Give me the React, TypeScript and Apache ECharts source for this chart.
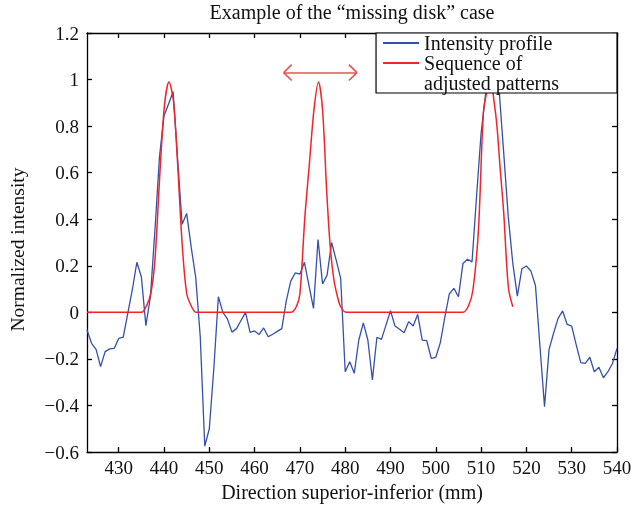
import React, { useEffect, useRef } from "react";
import * as echarts from "echarts";

const chartTitle = "Example of the \u201cmissing disk\u201d case";
const xAxisName = "Direction superior-inferior (mm)";
const yAxisName = "Normalized intensity";
const profileName = "Intensity profile";
const patternName = "Sequence of adjusted patterns";

const xRange = [423, 540];
const xTickValues = [430, 440, 450, 460, 470, 480, 490, 500, 510, 520, 530, 540];
const yRange = [-0.6, 1.2];
const yStep = 0.2;

const intensityProfile: [number, number][] = [
  [423, -0.076], [424, -0.133], [425, -0.159], [426, -0.233], [427, -0.169], [428, -0.157],
  [429, -0.155], [430, -0.112], [431, -0.107], [432, -0.004], [433, 0.096], [434, 0.215],
  [435, 0.153], [436, -0.057], [437, 0.067], [438, 0.354], [439, 0.668], [440, 0.843],
  [441, 0.895], [442, 0.948], [443, 0.66], [444, 0.378], [445, 0.425], [446, 0.28],
  [447, 0.15], [448, -0.105], [449, -0.575], [450, -0.5], [451, -0.24], [452, 0.067],
  [453, 0.0], [454, -0.028], [455, -0.085], [456, -0.07], [457, -0.035], [458, 0.0],
  [459, -0.086], [460, -0.08], [461, -0.095], [462, -0.067], [463, -0.105], [464, -0.094],
  [465, -0.082], [466, -0.07], [467, 0.05], [468, 0.135], [469, 0.17], [470, 0.164],
  [471, 0.215], [472, 0.116], [473, 0.017], [474, 0.313], [475, 0.122], [476, 0.16],
  [477, 0.3], [478, 0.225], [479, 0.146], [480, -0.255], [481, -0.212], [482, -0.262],
  [483, -0.119], [484, -0.045], [485, -0.119], [486, -0.29], [487, -0.107], [488, -0.116],
  [489, -0.055], [490, 0.007], [491, -0.059], [492, -0.073], [493, -0.088], [494, -0.04],
  [495, -0.059], [496, -0.009], [497, -0.119], [498, -0.122], [499, -0.198], [500, -0.193],
  [501, -0.13], [502, -0.02], [503, 0.08], [504, 0.103], [505, 0.067], [506, 0.21],
  [507, 0.228], [508, 0.217], [509, 0.5], [510, 0.77], [511, 0.94], [512, 0.99],
  [513, 1.0], [514, 0.948], [515, 0.683], [516, 0.41], [517, 0.21], [518, 0.07],
  [519, 0.187], [520, 0.199], [521, 0.177], [522, 0.115], [523, -0.148], [524, -0.405],
  [525, -0.159], [526, -0.09], [527, -0.026], [528, 0.006], [529, -0.052], [530, -0.059],
  [531, -0.14], [532, -0.216], [533, -0.219], [534, -0.193], [535, -0.255], [536, -0.236],
  [537, -0.281], [538, -0.255], [539, -0.22], [540, -0.155],
];

const adjustedPatterns: [number, number][] = [
  [423, 0], [435, 0], [436.2, 0.031], [437.1, 0.082], [438, 0.225], [439.1, 0.6],
  [440.1, 0.89], [441.1, 0.99], [442.1, 0.905], [443, 0.64], [444, 0.296], [445, 0.082],
  [446.1, 0.024], [447.1, 0], [468, 0], [469.2, 0.024], [470, 0.08], [471.1, 0.41],
  [472.1, 0.64], [473.1, 0.87], [474.1, 0.99], [475, 0.87], [475.9, 0.525], [476.7, 0.28],
  [477.5, 0.14], [478.3, 0.067], [479, 0.024], [480.2, 0], [506, 0], [507.2, 0.027],
  [508.2, 0.096], [509.4, 0.35], [510.5, 0.855], [511.3, 0.95], [512.1, 0.99], [512.9, 0.9],
  [513.5, 0.8], [514.2, 0.62], [515, 0.425], [515.6, 0.22], [516.1, 0.096], [517, 0.024],
];

const arrowSpan = [466.4, 482.6];
const arrowLevel = 1.03;
const arrowHead = [1.8, 0.034];

const FONT = "'Liberation Serif', 'DejaVu Serif', serif";
const BLUE = "#3550a8";
const RED = "#f2242a";
const ARROW = "#e25555";

export default function App() {
  const ref = useRef<HTMLDivElement>(null);
  useEffect(() => {
    if (!ref.current) return;
    const chart = echarts.init(ref.current, undefined, { renderer: "svg" });
    const [a0, a1] = arrowSpan;
    const [hx, hy] = arrowHead;
    const seg = (p: number[], q: number[]) => [{ coord: p }, { coord: q }];
    const yFmt = (v: number) => {
      const r = Math.round(v * 10) / 10;
      return r < 0 ? "\u2212" + Math.abs(r) : String(r);
    };
    const axisLine = { show: true, onZero: false, lineStyle: { color: "#000", width: 1.3 } };
    const tickX = { show: true, inside: true, length: 5, customValues: xTickValues, lineStyle: { color: "#000", width: 1.3 } };
    const tickY = { show: true, inside: true, length: 5, lineStyle: { color: "#000", width: 1.3 } };
    chart.setOption({
      animation: false,
      grid: { left: 87, right: 17, top: 33, bottom: 62, containLabel: false, outerBoundsMode: "none" },
      legend: {
        orient: "vertical",
        right: 17,
        top: 33,
        itemWidth: 36,
        itemHeight: 14,
        itemGap: -20,
        padding: [0, 58, 0, 6],
        backgroundColor: "#fff",
        borderColor: "#000",
        borderWidth: 1.2,
        borderRadius: 0,
        itemStyle: { opacity: 0, color: "transparent", borderWidth: 0 },
        data: [profileName, patternName],
        formatter: (n: string) => (n === patternName ? "\nSequence of\nadjusted patterns" : n),
        textStyle: { fontFamily: FONT, fontSize: 20, color: "#111", lineHeight: 20 },
      },
      xAxis: [
        {
          type: "value",
          min: xRange[0],
          max: xRange[1],
          position: "bottom",
          name: xAxisName,
          nameLocation: "middle",
          nameGap: 28,
          nameTextStyle: { fontFamily: FONT, fontSize: 20, color: "#111" },
          axisLine,
          axisTick: tickX,
          axisLabel: { customValues: xTickValues, fontFamily: FONT, fontSize: 19, color: "#111", margin: 6 },
          splitLine: { show: false },
        },
        {
          type: "value",
          min: xRange[0],
          max: xRange[1],
          position: "top",
          name: chartTitle,
          nameLocation: "middle",
          nameGap: 11,
          nameTextStyle: { fontFamily: FONT, fontSize: 20, color: "#111" },
          axisLine,
          axisTick: tickX,
          axisLabel: { show: false },
          splitLine: { show: false },
        },
      ],
      yAxis: [
        {
          type: "value",
          min: yRange[0],
          max: yRange[1],
          interval: yStep,
          position: "left",
          name: yAxisName,
          nameLocation: "middle",
          nameGap: 60,
          nameTextStyle: { fontFamily: FONT, fontSize: 19.5, color: "#111", padding: [0, 14, 0, 0] },
          axisLine,
          axisTick: tickY,
          axisLabel: { formatter: yFmt, fontFamily: FONT, fontSize: 19, color: "#111", margin: 8 },
          splitLine: { show: false },
        },
        {
          type: "value",
          min: yRange[0],
          max: yRange[1],
          interval: yStep,
          position: "right",
          axisLine,
          axisTick: tickY,
          axisLabel: { show: false },
          splitLine: { show: false },
        },
      ],
      series: [
        {
          name: profileName,
          type: "line",
          data: intensityProfile,
          symbol: "none",
          lineStyle: { color: BLUE, width: 1.3 },
          itemStyle: { color: BLUE },
          z: 2,
        },
        {
          name: patternName,
          type: "line",
          data: adjustedPatterns,
          symbol: "none",
          smooth: 0.3,
          lineStyle: { color: RED, width: 1.5 },
          itemStyle: { color: RED },
          z: 3,
          markLine: {
            silent: true,
            symbol: "none",
            label: { show: false },
            lineStyle: { color: ARROW, width: 1.6, type: "solid" },
            emphasis: { disabled: true },
            data: [
              seg([a0, arrowLevel], [a1, arrowLevel]),
              seg([a0, arrowLevel], [a0 + hx, arrowLevel + hy]),
              seg([a0, arrowLevel], [a0 + hx, arrowLevel - hy]),
              seg([a1, arrowLevel], [a1 - hx, arrowLevel + hy]),
              seg([a1, arrowLevel], [a1 - hx, arrowLevel - hy]),
            ],
          },
        },
      ],
    });
    return () => chart.dispose();
  }, []);
  return <div ref={ref} style={{ position: "fixed", left: 0, top: 0, width: 634, height: 514 }} />;
}
